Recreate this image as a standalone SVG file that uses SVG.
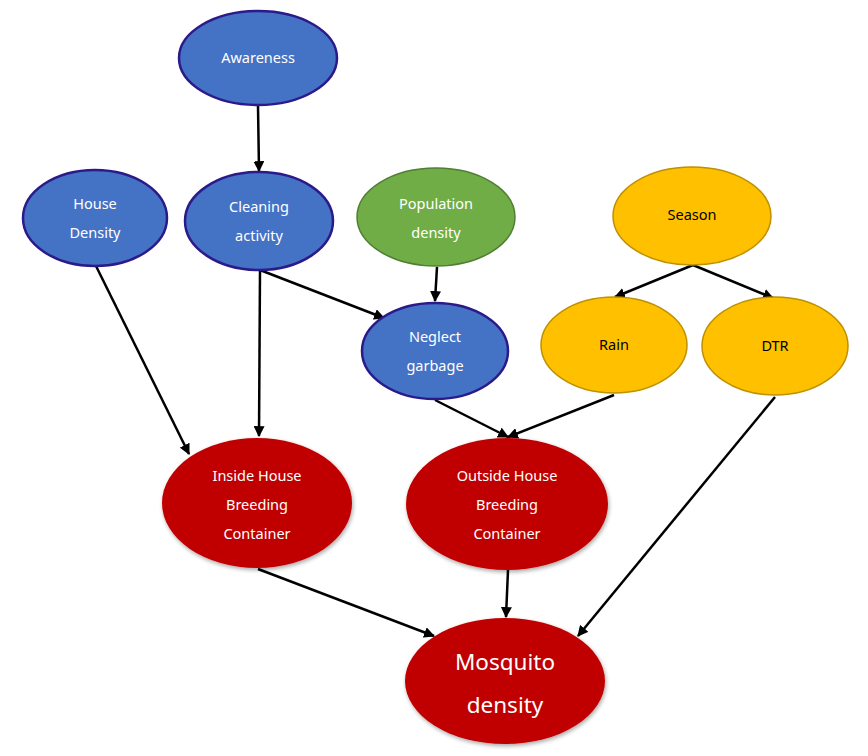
<svg xmlns="http://www.w3.org/2000/svg" width="868" height="756" viewBox="0 0 868 756">
<style>
.blue{fill:#4472C4;stroke:#2B1B8A;stroke-width:2.5}
.green{fill:#70AD47;stroke:#507E32;stroke-width:1.5}
.yellow{fill:#FFC000;stroke:#BF9000;stroke-width:1.5}
.red{fill:#C00000;stroke:none}
.t{font-family:"Noto Sans","DejaVu Sans",sans-serif;font-size:14.5px;text-anchor:middle;fill:#FFFFFF}
.tk{font-family:"Noto Sans","DejaVu Sans",sans-serif;font-size:14.5px;text-anchor:middle;fill:#000000}
.tb{font-family:"Noto Sans","DejaVu Sans",sans-serif;font-size:22.5px;text-anchor:middle;fill:#FFFFFF}
.e{stroke:#000;stroke-width:2.5;fill:none;marker-end:url(#a)}
</style>
<defs>
<marker id="a" viewBox="0 0 10 10" refX="9" refY="5" markerWidth="4.4" markerHeight="4.4" orient="auto" markerUnits="strokeWidth">
<path d="M0,0 L10,5 L0,10 z" fill="#000"/>
</marker>
<filter id="sh" x="-20%" y="-20%" width="140%" height="140%">
<feGaussianBlur in="SourceAlpha" stdDeviation="2"/>
<feOffset dx="1" dy="2" result="b"/>
<feComponentTransfer><feFuncA type="linear" slope="0.35"/></feComponentTransfer>
<feMerge><feMergeNode/><feMergeNode in="SourceGraphic"/></feMerge>
</filter>
</defs>
<rect width="868" height="756" fill="#FFFFFF"/>
<g id="connectors">
<line class="e" x1="258" y1="106" x2="259" y2="171"/>
<line class="e" x1="96" y1="266" x2="189" y2="454"/>
<line class="e" x1="260" y1="270" x2="259" y2="436"/>
<line class="e" x1="260" y1="270" x2="384" y2="318"/>
<line class="e" x1="437" y1="267" x2="435" y2="301"/>
<line class="e" x1="693" y1="265" x2="615" y2="297"/>
<line class="e" x1="693" y1="265" x2="773" y2="298"/>
<line class="e" x1="435" y1="400" x2="508" y2="437"/>
<line class="e" x1="614" y1="395" x2="508" y2="437"/>
<line class="e" x1="775" y1="397" x2="578" y2="636"/>
<line class="e" x1="258" y1="569" x2="434" y2="636"/>
<line class="e" x1="508" y1="570" x2="506" y2="617"/>
</g>
<g id="awareness"><ellipse class="blue" cx="258" cy="58" rx="79" ry="47"/><text class="t" x="258" y="63">Awareness</text></g>
<g id="house-density"><ellipse class="blue" cx="95" cy="218" rx="72" ry="48"/><text class="t" x="95" y="209">House</text><text class="t" x="95" y="238">Density</text></g>
<g id="cleaning-activity"><ellipse class="blue" cx="259" cy="221" rx="74" ry="49"/><text class="t" x="259" y="212">Cleaning</text><text class="t" x="259" y="241">activity</text></g>
<g id="population-density"><ellipse class="green" cx="436" cy="217" rx="79" ry="49"/><text class="t" x="436" y="209">Population</text><text class="t" x="436" y="238">density</text></g>
<g id="season"><ellipse class="yellow" cx="692" cy="216" rx="79" ry="49"/><text class="tk" x="692" y="220">Season</text></g>
<g id="rain"><ellipse class="yellow" cx="614" cy="345" rx="73" ry="48"/><text class="tk" x="614" y="350">Rain</text></g>
<g id="dtr"><ellipse class="yellow" cx="775" cy="346" rx="73" ry="49"/><text class="tk" x="775" y="351">DTR</text></g>
<g id="neglect-garbage"><ellipse class="blue" cx="435" cy="351" rx="73" ry="48"/><text class="t" x="435" y="342">Neglect</text><text class="t" x="435" y="371">garbage</text></g>
<g id="inside-house"><ellipse class="red" filter="url(#sh)" cx="257" cy="503" rx="95" ry="65"/><text class="t" x="257" y="481">Inside House</text><text class="t" x="257" y="510">Breeding</text><text class="t" x="257" y="539">Container</text></g>
<g id="outside-house"><ellipse class="red" filter="url(#sh)" cx="507" cy="504" rx="101" ry="66"/><text class="t" x="507" y="481">Outside House</text><text class="t" x="507" y="510">Breeding</text><text class="t" x="507" y="539">Container</text></g>
<g id="mosquito-density"><ellipse class="red" filter="url(#sh)" cx="505" cy="681" rx="100" ry="63"/><text class="tb" x="505" y="670">Mosquito</text><text class="tb" x="505" y="713">density</text></g>
</svg>
